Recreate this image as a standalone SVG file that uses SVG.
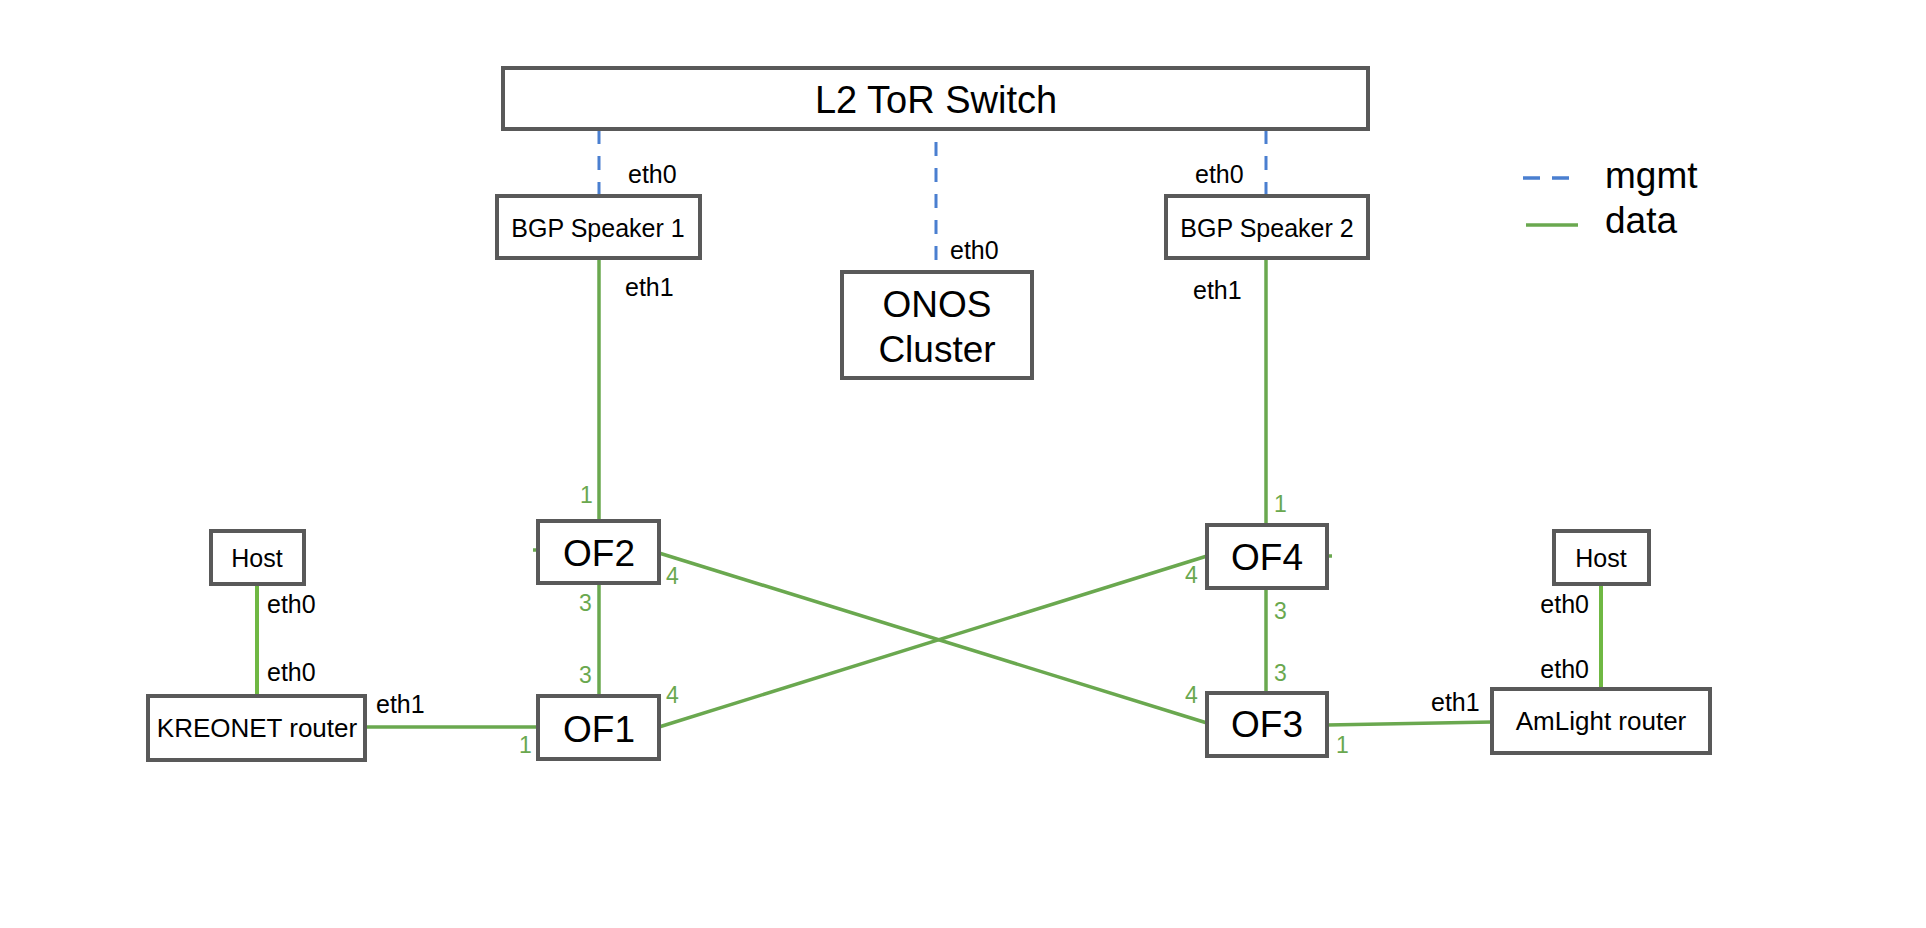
<svg xmlns="http://www.w3.org/2000/svg" width="1926" height="928" viewBox="0 0 1926 928">
<style>
.box{fill:#fff;stroke:#595959;stroke-width:4}
.t{font-family:"Liberation Sans",Arial,sans-serif;fill:#000}
.c{text-anchor:middle}
.lbl{font-family:"Liberation Sans",Arial,sans-serif;font-size:25px;fill:#000}
.num{font-family:"Liberation Sans",Arial,sans-serif;font-size:23px;fill:#6aa84f}
.mg{stroke:#4a7fd0;stroke-width:3;fill:none;stroke-dasharray:14 12}
.dt{stroke:#6aa84f;stroke-width:3.5;fill:none}
.dh{stroke:#6fb843;stroke-width:4;fill:none}
</style>
<rect width="1926" height="928" fill="#fff"/>
<g id="connectors">
<line class="mg" x1="599" y1="130" x2="599" y2="196"/>
<line class="mg" x1="936" y1="142" x2="936" y2="272"/>
<line class="mg" x1="1266" y1="130" x2="1266" y2="196"/>
<line class="dt" x1="599" y1="258" x2="599" y2="521"/>
<line class="dt" x1="1266" y1="258" x2="1266" y2="525"/>
<line class="dt" x1="599" y1="583" x2="599" y2="696"/>
<line class="dt" x1="1266" y1="588" x2="1266" y2="693"/>
<line class="dt" x1="365" y1="727" x2="538" y2="727"/>
<line class="dt" x1="1327" y1="725" x2="1492" y2="722"/>
<line class="dh" x1="257" y1="584" x2="257" y2="696"/>
<line class="dh" x1="1601" y1="584" x2="1601" y2="689"/>
<line class="dt" x1="659" y1="553" x2="1207" y2="723"/>
<line class="dt" x1="659" y1="727" x2="1207" y2="556"/>
<line class="dt" x1="533" y1="550" x2="538" y2="550"/>
<line class="dt" x1="1327" y1="556" x2="1332" y2="556"/>
</g>
<g id="tor"><rect class="box" x="503" y="68" width="865" height="61"/><text class="t c" x="936" y="113" font-size="38">L2 ToR Switch</text></g>
<g id="bgp1"><rect class="box" x="497" y="196" width="203" height="62"/><text class="t c" x="598" y="237" font-size="25">BGP Speaker 1</text></g>
<g id="bgp2"><rect class="box" x="1166" y="196" width="202" height="62"/><text class="t c" x="1267" y="237" font-size="25">BGP Speaker 2</text></g>
<g id="onos"><rect class="box" x="842" y="272" width="190" height="106"/><text class="t c" x="937" y="317" font-size="37">ONOS</text><text class="t c" x="937" y="362" font-size="37">Cluster</text></g>
<g id="of2"><rect class="box" x="538" y="521" width="121" height="62"/><text class="t c" x="599" y="566" font-size="37">OF2</text></g>
<g id="of1"><rect class="box" x="538" y="696" width="121" height="63"/><text class="t c" x="599" y="742" font-size="37">OF1</text></g>
<g id="of4"><rect class="box" x="1207" y="525" width="120" height="63"/><text class="t c" x="1267" y="570" font-size="37">OF4</text></g>
<g id="of3"><rect class="box" x="1207" y="693" width="120" height="63"/><text class="t c" x="1267" y="737" font-size="37">OF3</text></g>
<g id="host1"><rect class="box" x="211" y="531" width="93" height="53"/><text class="t c" x="257" y="567" font-size="25">Host</text></g>
<g id="kreonet"><rect class="box" x="148" y="696" width="217" height="64"/><text class="t c" x="257" y="737" font-size="26">KREONET router</text></g>
<g id="host2"><rect class="box" x="1554" y="531" width="95" height="53"/><text class="t c" x="1601" y="567" font-size="25">Host</text></g>
<g id="amlight"><rect class="box" x="1492" y="689" width="218" height="64"/><text class="t c" x="1601" y="730" font-size="26">AmLight router</text></g>
<g id="labels">
<text class="lbl" x="628" y="183">eth0</text>
<text class="lbl" x="1195" y="183">eth0</text>
<text class="lbl" x="950" y="259">eth0</text>
<text class="lbl" x="625" y="296">eth1</text>
<text class="lbl" x="1193" y="299">eth1</text>
<text class="lbl" x="267" y="613">eth0</text>
<text class="lbl" x="267" y="681">eth0</text>
<text class="lbl" x="376" y="713">eth1</text>
<text class="lbl" x="1431" y="711">eth1</text>
<text class="lbl" x="1589" y="613" text-anchor="end">eth0</text>
<text class="lbl" x="1589" y="678" text-anchor="end">eth0</text>
<text class="num" x="580" y="503">1</text>
<text class="num" x="666" y="584">4</text>
<text class="num" x="579" y="611">3</text>
<text class="num" x="579" y="683">3</text>
<text class="num" x="666" y="703">4</text>
<text class="num" x="519" y="753">1</text>
<text class="num" x="1274" y="512">1</text>
<text class="num" x="1185" y="583">4</text>
<text class="num" x="1274" y="619">3</text>
<text class="num" x="1274" y="681">3</text>
<text class="num" x="1185" y="703">4</text>
<text class="num" x="1336" y="753">1</text>
</g>
<g id="legend">
<line x1="1523" y1="178" x2="1570" y2="178" stroke="#4a7fd0" stroke-width="3.5" stroke-dasharray="17 12"/>
<line x1="1526" y1="225" x2="1578" y2="225" stroke="#6aa84f" stroke-width="3.5"/>
<text class="t" x="1605" y="188" font-size="37">mgmt</text>
<text class="t" x="1605" y="233" font-size="37">data</text>
</g>
</svg>
